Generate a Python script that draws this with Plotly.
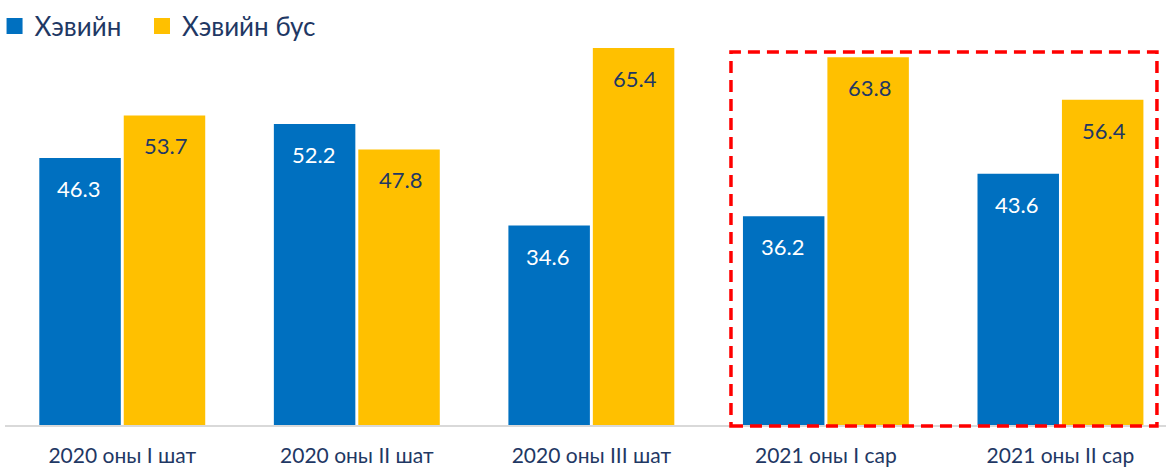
import plotly.graph_objects as go

categories = ["2020 оны I шат", "2020 оны II шат", "2020 оны III шат", "2021 оны I сар", "2021 оны II сар"]
normal = [46.3, 52.2, 34.6, 36.2, 43.6]
abnormal = [53.7, 47.8, 65.4, 63.8, 56.4]
series_names = ["Хэвийн", "Хэвийн бус"]

BLUE = "#0070C0"
YELLOW = "#FFC000"
NAVY = "#1F3864"
FONT = "Lato"

xs = list(range(len(categories)))
fig = go.Figure()
fig.add_bar(x=xs, y=normal, name=series_names[0], legendgroup="a", showlegend=False,
            marker=dict(color=BLUE, line=dict(width=0)))
fig.add_bar(x=xs, y=abnormal, name=series_names[1], legendgroup="b", showlegend=False,
            marker=dict(color=YELLOW, line=dict(width=0)))
# legend entries with larger square swatches
fig.add_scatter(x=[None], y=[None], mode="markers", name=series_names[0], legendgroup="a",
                legend="legend", marker=dict(symbol="square", size=16, color=BLUE))
fig.add_scatter(x=[None], y=[None], mode="markers", name=series_names[1], legendgroup="b",
                legend="legend2", marker=dict(symbol="square", size=16, color=YELLOW))

off = 0.72 / 4 + 0.006
anns = []
for i in xs:
    anns.append(dict(x=i - off, y=normal[i], xref="x", yref="y", text=f"{normal[i]:.1f}",
                     showarrow=False, yanchor="top", yshift=-15,
                     font=dict(family=FONT, size=22, color="white")))
    anns.append(dict(x=i + off, y=abnormal[i], xref="x", yref="y", text=f"{abnormal[i]:.1f}",
                     showarrow=False, yanchor="top", yshift=-15,
                     font=dict(family=FONT, size=22, color=NAVY)))

legend_common = dict(orientation="h", y=0.985, xanchor="left", yanchor="middle",
                     font=dict(family=FONT, size=26, color=NAVY), itemwidth=30, itemsizing="trace",
                     traceorder="normal", bgcolor="rgba(0,0,0,0)")

fig.update_layout(
    width=1166, height=467,
    margin=dict(l=5, r=0, t=20, b=42, autoexpand=False),
    paper_bgcolor="white", plot_bgcolor="white",
    barmode="group", bargap=0.28, bargroupgap=0.035,
    font=dict(family=FONT, color=NAVY),
    showlegend=True,
    legend=dict(x=-0.009, **legend_common),
    legend2=dict(x=0.118, **legend_common),
    annotations=anns,
    xaxis=dict(range=[-0.5, 4.45], tickvals=xs, ticktext=categories, showgrid=False,
               showline=True, linecolor="#D9D9D9", linewidth=1.5, ticks="",
               tickfont=dict(family=FONT, size=21, color=NAVY), ticklabelstandoff=11,
               zeroline=False),
    yaxis=dict(range=[0, 70.25], visible=False, showgrid=False, zeroline=False),
    shapes=[dict(type="rect", xref="paper", yref="paper", x0=0.6253, x1=0.9922, y0=-0.0025, y1=0.921,
                 line=dict(color="#FF0000", width=3.5, dash="12px,7px"), fillcolor="rgba(0,0,0,0)",
                 layer="above")],
)

fig.write_html("out.html", config={"displayModeBar": False},
               post_script="document.body.style.margin='0px';document.body.style.overflow='hidden';")
